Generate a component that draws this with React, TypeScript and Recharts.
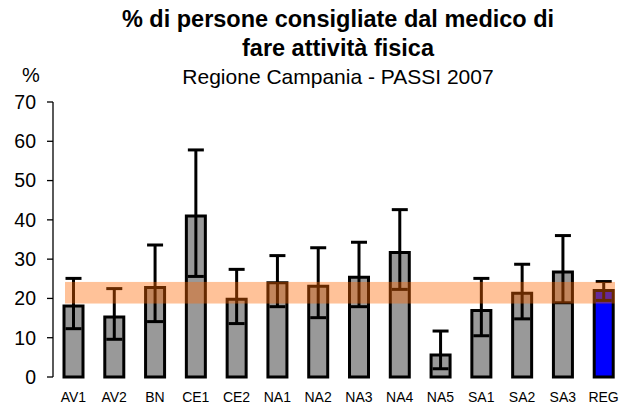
import { BarChart, Bar, XAxis, YAxis, ErrorBar, Cell, ReferenceArea } from 'recharts';

const asl = ['AV1', 'AV2', 'BN', 'CE1', 'CE2', 'NA1', 'NA2', 'NA3', 'NA4', 'NA5', 'SA1', 'SA2', 'SA3', 'REG'];
const percent = [18.1, 15.3, 22.8, 41.0, 19.8, 24.0, 23.1, 25.4, 31.7, 5.6, 16.9, 21.3, 26.7, 22.0];
const ciLow = [12.3, 9.6, 14.1, 25.6, 13.6, 17.9, 15.1, 17.9, 22.3, 2.1, 10.5, 14.8, 18.9, 19.5];
const ciHigh = [25.1, 22.5, 33.6, 57.8, 27.4, 30.9, 32.9, 34.3, 42.6, 11.7, 25.1, 28.7, 36.0, 24.3];
const yTicks = [0, 10, 20, 30, 40, 50, 60, 70];

// regional confidence interval band
const regLow = 18.7;
const regHigh = 24.2;

const data = asl.map((name, i) => ({
  name,
  value: percent[i],
  err: [percent[i] - ciLow[i], ciHigh[i] - percent[i]],
}));

const font = 'Liberation Sans, Arial, sans-serif';

// band is a bit narrower than the full plot area
const BandShape = (p: any) => (
  <rect
    x={p.x + 12}
    y={p.y}
    width={p.width - 21}
    height={p.height}
    fill="#FF6600"
    fillOpacity={0.4}
    stroke="none"
  />
);

export default function App() {
  return (
    <div style={{ position: 'absolute', left: 0, top: 0, width: 630, height: 407, background: '#fff' }}>
      <svg width={630} height={100} style={{ position: 'absolute', left: 0, top: 0 }} fontFamily={font}>
        <text x={338} y={27} textAnchor="middle" fontSize={23.5} fontWeight="bold" fill="#000">
          % di persone consigliate dal medico di
        </text>
        <text x={338} y={56} textAnchor="middle" fontSize={23.5} fontWeight="bold" fill="#000">
          fare attività fisica
        </text>
        <text x={338} y={84} textAnchor="middle" fontSize={21} fill="#000">
          Regione Campania - PASSI 2007
        </text>
        <text x={22} y={82} fontSize={20} fill="#000">%</text>
      </svg>
      <BarChart
        width={630}
        height={407}
        data={data}
        margin={{ top: 102, right: 6, left: 0, bottom: 0 }}
        barCategoryGap={0}
        style={{ fontFamily: font }}
      >
        <XAxis
          dataKey="name"
          axisLine={false}
          tickLine={false}
          tickSize={0}
          tickMargin={15}
          height={30}
          interval={0}
          tick={{ fontSize: 14, fill: '#000' }}
        />
        <YAxis
          domain={[0, 70]}
          ticks={yTicks}
          width={53}
          tickSize={6}
          tickMargin={11}
          axisLine={{ stroke: '#000', strokeWidth: 1.3 }}
          tickLine={{ stroke: '#000', strokeWidth: 1.3 }}
          tick={{ fontSize: 19.5, fill: '#000' }}
          interval={0}
        />
        <Bar dataKey="value" barSize={19} stroke="#000" strokeWidth={3} isAnimationActive={false}>
          {data.map((d) => (
            <Cell key={d.name} fill={d.name === 'REG' ? '#0000FF' : '#999999'} />
          ))}
          <ErrorBar dataKey="err" width={8} stroke="#000" strokeWidth={3} isAnimationActive={false} />
        </Bar>
        <ReferenceArea
          x1="AV1"
          x2="REG"
          y1={regLow}
          y2={regHigh}
          shape={BandShape}
          zIndex={2000}
        />
      </BarChart>
    </div>
  );
}
